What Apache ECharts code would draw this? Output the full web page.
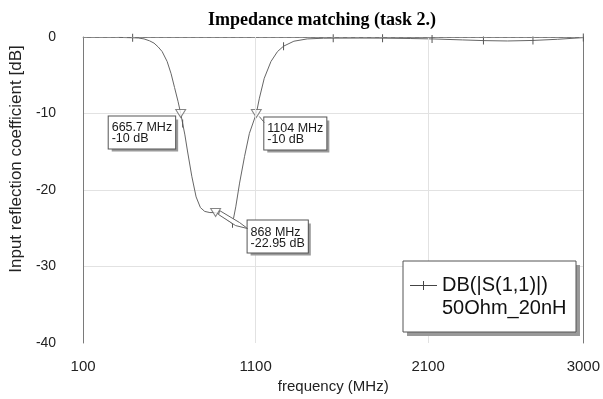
<!DOCTYPE html>
<html><head><meta charset="utf-8">
<script src="https://cdn.jsdelivr.net/npm/echarts@6/dist/echarts.min.js"></script>
<style>html,body{margin:0;padding:0;background:#fff}#c{width:603px;height:399px}</style>
</head><body><div id="c"></div>
<script>
// ---- data ----
const freqMHz = [300, 387, 420, 453, 485, 511, 535, 558, 587, 610, 630, 650, 665.7, 677, 690, 705, 730, 755, 780, 805, 835, 868, 900, 930, 966, 985, 1007, 1036, 1064, 1104, 1122, 1150, 1189, 1227, 1262, 1322, 1399, 1493, 1550, 1700, 1836, 2000, 2123, 2300, 2421, 2560, 2708, 2850, 3000];
const s11dB = [-0.05, -0.1, -0.13, -0.25, -0.5, -0.8, -1.3, -1.9, -3.2, -4.8, -6.6, -8.4, -10, -11.3, -12.8, -14.9, -18.2, -20.9, -22.3, -22.8, -22.95, -22.95, -23.3, -23.8, -24.4, -22.2, -19.1, -15.6, -12.6, -10, -8, -5.4, -3.2, -1.9, -1.2, -0.55, -0.25, -0.16, -0.15, -0.14, -0.15, -0.2, -0.25, -0.38, -0.47, -0.52, -0.45, -0.3, -0.08];
const tickMarkFreqs = [387, 677, 966, 1262, 1550, 1836, 2123, 2421, 2708, 3000];
const markerFreqs = [665.7, 1104, 868];
const markerDb = [-10, -10, -22.95];
const xTickLabels = [100, 1100, 2100, 3000];
const xGridValues = [1100, 2100];
const yTickValues = [0, -10, -20, -30, -40];
const seriesName = 'DB(|S(1,1)|)';
const seriesSub = '50Ohm_20nH';
const titleText = 'Impedance matching (task 2.)';
const xName = 'frequency (MHz)';
const yName = 'Input reflection coefficient [dB]';

const FONT = "'Liberation Sans', Arial, sans-serif";
const chart = echarts.init(document.getElementById('c'), null, {renderer: 'canvas'});

const lineData = freqMHz.map((f, i) => {
  const item = {value: [f, s11dB[i]]};
  if (tickMarkFreqs.indexOf(f) >= 0) { item.symbol = 'rect'; item.symbolSize = [1, 8]; }
  return item;
});
const markerData = markerFreqs.map((f, i) => [f, markerDb[i]]);

chart.setOption({
  animation: false,
  backgroundColor: '#fff',
  title: {
    text: titleText, left: 208, top: 11, padding: 0,
    textStyle: {fontFamily: "'Liberation Serif', 'Times New Roman', serif", fontWeight: 'bold', fontSize: 18, color: '#000'}
  },
  grid: {left: 80, right: 17, top: 37, bottom: 56, containLabel: false},
  xAxis: {
    type: 'value', min: 100, max: 3000,
    axisLine: {show: true, lineStyle: {color: '#7a7a7a', width: 1}},
    axisTick: {show: false},
    splitLine: {show: false},
    axisLabel: {customValues: xTickLabels, formatter: v => String(v), fontFamily: FONT, fontSize: 15, color: '#222', margin: 16},
    name: xName, nameLocation: 'middle', nameGap: 34,
    nameTextStyle: {fontFamily: FONT, fontSize: 15, color: '#222'}
  },
  yAxis: [{
    type: 'value', min: -40, max: 0, interval: 10,
    axisLine: {show: true, lineStyle: {color: '#7a7a7a', width: 1}},
    axisTick: {show: false},
    splitLine: {show: true, showMinLine: false, showMaxLine: false, lineStyle: {color: '#e2e2e2', width: 1}},
    axisLabel: {customValues: yTickValues, formatter: v => String(v), fontFamily: FONT, fontSize: 14, color: '#222', margin: 27},
    name: yName, nameLocation: 'middle', nameGap: 57,
    nameTextStyle: {fontFamily: FONT, fontSize: 17, color: '#222', padding: [0, 0, 0, 62]}
  }, {
    type: 'value', min: -40, max: 0, position: 'right',
    axisLine: {show: true, lineStyle: {color: '#7a7a7a', width: 1}},
    axisTick: {show: false}, axisLabel: {show: false}, splitLine: {show: false}
  }],
  series: [{
    name: 'gridlines', type: 'line', data: [], z: 1, silent: true,
    markLine: {
      silent: true, symbol: 'none', label: {show: false}, animation: false,
      data: xGridValues.map(v => ({xAxis: v, lineStyle: {color: '#e2e2e2', width: 1, type: 'solid'}}))
        .concat([{yAxis: 0, lineStyle: {color: '#8a8a8a', width: 1, type: [4, 4]}}])
    }
  }, {
    name: seriesName, type: 'line', data: lineData, z: 3,
    symbol: 'none', showSymbol: true,
    lineStyle: {color: '#666', width: 1},
    itemStyle: {color: '#555'}
  }, {
    name: 'markers', type: 'scatter', data: markerData, z: 4,
    symbol: 'path://M0,0L10,0L5,8Z', symbolSize: [10, 8],
    itemStyle: {color: '#fff', borderColor: '#666', borderWidth: 1}
  }]
});

// ---- annotation boxes and legend ----
const labelOffsets = [[-72, 3], [8, 4], [32, 8]];
const g = [];
markerFreqs.forEach((f, i) => {
  const p = chart.convertToPixel({xAxisIndex: 0, yAxisIndex: 0}, [f, markerDb[i]]);
  const txt = f + ' MHz\n' + markerDb[i] + ' dB';
  const x = p[0] + labelOffsets[i][0], y = p[1] + labelOffsets[i][1];
  const base = {font: '12.5px ' + FONT, lineHeight: 11, padding: [6, 3, 4, 3], text: txt};
  g.push({type: 'text', x: x + 3, y: y + 3, z: 10, silent: true,
    style: Object.assign({}, base, {fill: 'rgba(0,0,0,0)', backgroundColor: '#9a9a9a'})});
  g.push({type: 'text', x: x, y: y, z: 11, silent: true,
    style: Object.assign({}, base, {fill: '#1a1a1a', backgroundColor: '#fff', borderColor: '#555', borderWidth: 1})});
  if (i === 1) {
    g.push({type: 'polyline', z: 12, silent: true,
      shape: {points: [[p[0] + 3, p[1] + 3], [p[0] + 8, p[1] + 9]]},
      style: {stroke: '#666', lineWidth: 1}});
  }
  if (i === 2) {
    g.push({type: 'polygon', z: 12, silent: true,
      shape: {points: [[p[0] + 4, p[1] - 2], [p[0] + 24, p[1] + 10], [p[0] + 32, p[1] + 16], [p[0] + 20, p[1] + 13], [p[0] + 3, p[1] + 2]]},
      style: {fill: '#fff', stroke: '#666', lineWidth: 1}});
  }
});
// legend
g.push({type: 'rect', z: 10, silent: true, shape: {x: 407, y: 265, width: 173, height: 71}, style: {fill: '#999'}});
g.push({type: 'rect', z: 11, silent: true, shape: {x: 403, y: 261, width: 173, height: 71}, style: {fill: '#fff', stroke: '#555', lineWidth: 1}});
g.push({type: 'line', z: 12, silent: true, shape: {x1: 410, y1: 285.5, x2: 437, y2: 285.5}, style: {stroke: '#444', lineWidth: 1}});
g.push({type: 'line', z: 12, silent: true, shape: {x1: 423.5, y1: 281, x2: 423.5, y2: 290}, style: {stroke: '#444', lineWidth: 1}});
g.push({type: 'text', z: 12, silent: true, x: 442, y: 273.5,
  style: {text: seriesName + '\n' + seriesSub, font: '20px ' + FONT, lineHeight: 23, fill: '#111'}});
chart.setOption({graphic: {elements: g}});
</script>
</body></html>
